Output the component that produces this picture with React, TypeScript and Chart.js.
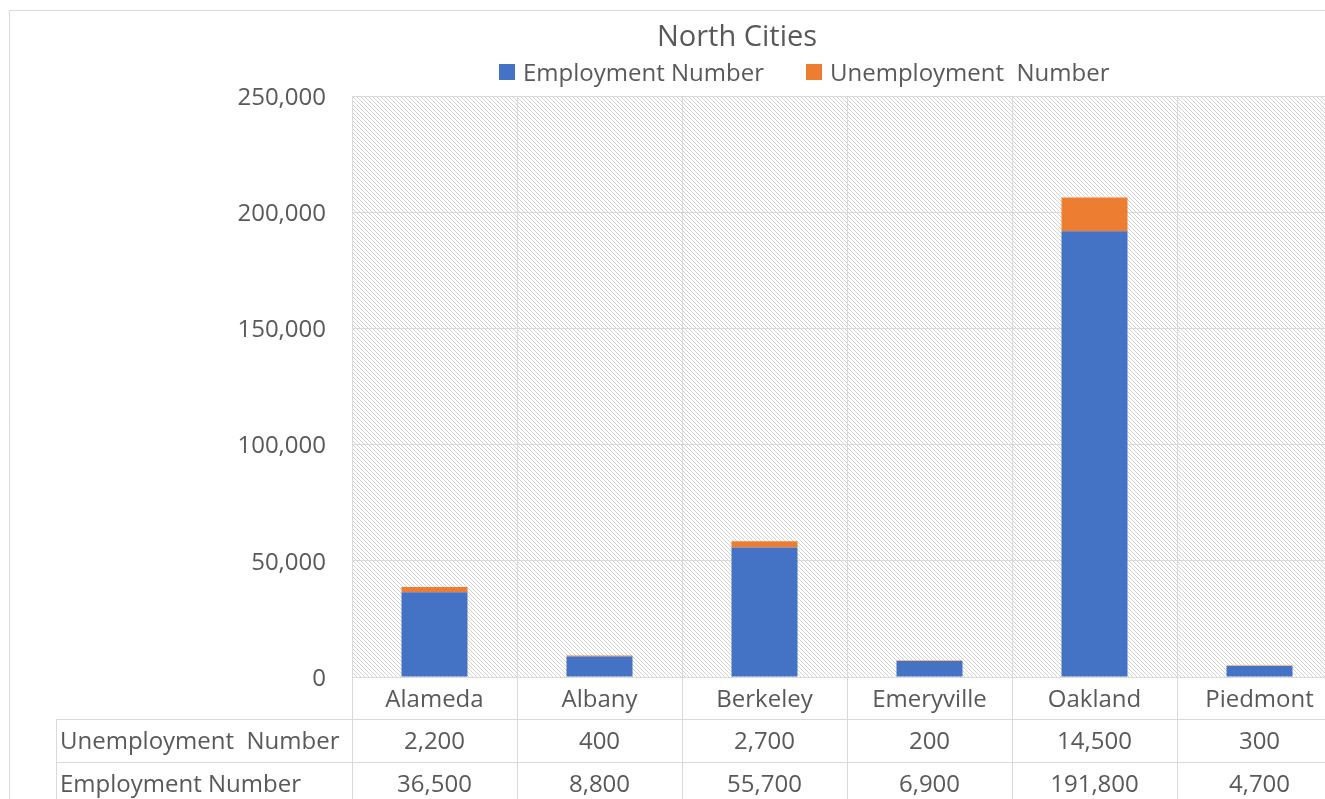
import React, { useEffect, useRef } from "react";
import { Chart, registerables } from "chart.js";

Chart.register(...registerables);

// ---- data ----
const chartTitle = "North Cities";
const categories = ["Alameda", "Albany", "Berkeley", "Emeryville", "Oakland", "Piedmont"];
const employmentLabel = "Employment Number";
const unemploymentLabel = "Unemployment  Number";
const employment = [36500, 8800, 55700, 6900, 191800, 4700];
const unemployment = [2200, 400, 2700, 200, 14500, 300];
const yTickValues = [0, 50000, 100000, 150000, 200000, 250000];

// ---- style ----
const W = 1360;
const H = 830;
const FONT = '"Open Sans", "DejaVu Sans", sans-serif';
const TEXT = "#595959";
const LINE = "#d9d9d9";
const BLUE = "#4472C4";
const ORANGE = "#ED7D31";
const FS = 24;

const fmt = (v: number) => Number(v).toLocaleString("en-US");

const decor = {
  id: "decor",
  beforeDraw(chart: any) {
    const { ctx, chartArea: a } = chart;
    ctx.save();
    ctx.fillStyle = "#ffffff";
    ctx.fillRect(0, 0, chart.width, chart.height);
    const tile = document.createElement("canvas");
    tile.width = 4;
    tile.height = 4;
    const t = tile.getContext("2d")!;
    t.fillStyle = "#ffffff";
    t.fillRect(0, 0, 4, 4);
    t.fillStyle = "#d2d2d2";
    for (let i = 0; i < 4; i++) t.fillRect(i, i, 1, 1);
    const pat = ctx.createPattern(tile, "repeat");
    if (pat) {
      ctx.fillStyle = pat;
      ctx.fillRect(a.left, a.top, a.right - a.left, a.bottom - a.top);
    }
    // outer chart border
    ctx.strokeStyle = LINE;
    ctx.lineWidth = 1;
    ctx.beginPath();
    ctx.moveTo(9.5, chart.height);
    ctx.lineTo(9.5, 10.5);
    ctx.lineTo(chart.width, 10.5);
    ctx.stroke();
    ctx.restore();
  },
  afterDraw(chart: any) {
    const { ctx, chartArea: a } = chart;
    const xs = chart.scales.x;
    const n = chart.data.labels.length;
    const cw = (a.right - a.left) / n;
    ctx.save();

    // title
    ctx.fillStyle = TEXT;
    ctx.font = `29px ${FONT}`;
    ctx.textAlign = "center";
    ctx.textBaseline = "alphabetic";
    ctx.fillText(chartTitle, 737, 46);

    // legend
    ctx.font = `${FS}px ${FONT}`;
    ctx.textAlign = "left";
    const ds = chart.data.datasets;
    const legendItems = [
      { box: 499, text: 523, ds: ds[0] },
      { box: 806, text: 830, ds: ds[1] },
    ];
    legendItems.forEach((it) => {
      ctx.fillStyle = it.ds.backgroundColor;
      ctx.fillRect(it.box, 64, 16, 16);
      ctx.fillStyle = TEXT;
      ctx.fillText(it.ds.label, it.text, 81);
    });

    // data table
    ctx.strokeStyle = LINE;
    ctx.lineWidth = 1;
    ctx.beginPath();
    const rowTops = [719.5, 762.5, 805.5];
    rowTops.forEach((y) => {
      ctx.moveTo(56, y);
      ctx.lineTo(a.right, y);
    });
    ctx.moveTo(56.5, 719);
    ctx.lineTo(56.5, chart.height);
    for (let i = 0; i <= n; i++) {
      const x = Math.round(a.left + i * cw) + 0.5;
      ctx.moveTo(x, a.bottom);
      ctx.lineTo(x, chart.height);
    }
    ctx.stroke();

    const rows = [
      { d: ds[1], base: 749 },
      { d: ds[0], base: 792 },
    ];
    ctx.fillStyle = TEXT;
    ctx.font = `${FS}px ${FONT}`;
    rows.forEach((r) => {
      ctx.textAlign = "left";
      ctx.fillText(r.d.label, 60, r.base);
      ctx.textAlign = "center";
      r.d.data.forEach((v: number, i: number) => {
        ctx.fillText(fmt(v), xs.getPixelForValue(i), r.base);
      });
    });
    ctx.restore();
  },
};

export default function App() {
  const ref = useRef<HTMLCanvasElement | null>(null);
  useEffect(() => {
    if (!ref.current) return;
    const chart = new Chart(ref.current, {
      type: "bar",
      data: {
        labels: categories,
        datasets: [
          { label: employmentLabel, data: employment, backgroundColor: BLUE, barPercentage: 0.4, categoryPercentage: 1 },
          { label: unemploymentLabel, data: unemployment, backgroundColor: ORANGE, barPercentage: 0.4, categoryPercentage: 1 },
        ],
      },
      options: {
        responsive: false,
        animation: false,
        devicePixelRatio: 1,
        layout: { padding: { top: 96, right: W - 1342, left: 0, bottom: 0 } },
        plugins: {
          legend: { display: false },
          title: { display: false },
          tooltip: { enabled: false },
        },
        scales: {
          x: {
            stacked: true,
            grid: { color: LINE, drawTicks: false, offset: true },
            border: { color: LINE },
            ticks: { color: TEXT, font: { family: FONT, size: FS }, padding: 9, maxRotation: 0, autoSkip: false },
            afterFit: (s: any) => {
              s.height = H - 677;
            },
          },
          y: {
            stacked: true,
            min: 0,
            max: 250000,
            grid: { color: LINE, drawTicks: false },
            border: { color: LINE },
            ticks: { color: TEXT, font: { family: FONT, size: FS }, padding: 26, labelOffset: 2, callback: (v: any) => fmt(v) },
            afterBuildTicks: (s: any) => {
              s.ticks = yTickValues.map((v) => ({ value: v }));
            },
            afterFit: (s: any) => {
              s.width = 352;
            },
          },
        },
      },
      plugins: [decor],
    } as any);
    return () => chart.destroy();
  }, []);
  return (
    <div style={{ position: "fixed", left: 0, top: 0, width: 1325, height: 799, overflow: "hidden", background: "#fff" }}>
      <canvas ref={ref} width={W} height={H} style={{ display: "block", width: W, height: H }} />
    </div>
  );
}
